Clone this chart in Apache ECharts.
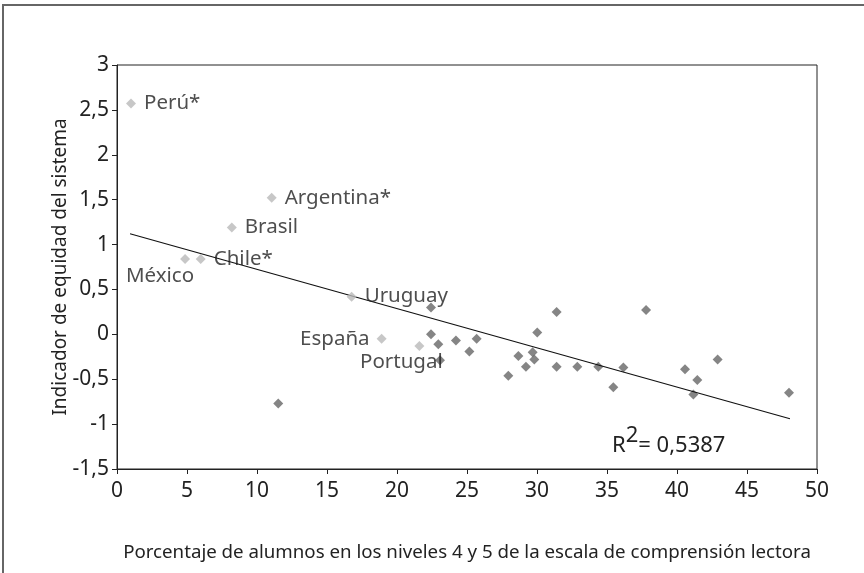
<!DOCTYPE html>
<html>
<head>
<meta charset="utf-8">
<script src="https://cdn.jsdelivr.net/npm/echarts@6/dist/echarts.min.js"></script>
<style>
    html, body { margin: 0; padding: 0; background: #fff; }
    #chart { width: 864px; height: 573px; }
</style>
</head>
<body>
<div id="chart"></div>
<script>
// países destacados (gris claro)
const namedCountries = ["Perú*", "Argentina*", "Brasil", "México", "Chile*", "Uruguay", "España", "Portugal"];
const namedX = [1.0, 11.05, 8.2, 4.86, 5.98, 16.76, 18.9, 21.6];
const namedY = [2.57, 1.52, 1.19, 0.84, 0.84, 0.42, -0.05, -0.13];

// resto de países (gris oscuro)
const otherX = [11.52, 22.43, 22.43, 22.95, 23.07, 24.21, 25.69, 25.17, 31.4, 30.02, 28.67, 29.69, 29.81,
    29.21, 27.95, 31.4, 32.88, 34.38, 35.45, 36.17, 37.79, 40.57, 41.45, 41.17, 42.9, 48.0];
const otherY = [-0.77, 0.30, 0.0, -0.11, -0.29, -0.07, -0.05, -0.19, 0.25, 0.02, -0.24, -0.20, -0.28,
    -0.36, -0.46, -0.36, -0.36, -0.36, -0.59, -0.37, 0.27, -0.39, -0.51, -0.67, -0.28, -0.65];

// línea de tendencia (extremos)
const trendX = [0.93, 48.07];
const trendY = [1.12, -0.94];

const xTicks = [0, 50, 5];
const yTicks = [-1.5, 3, 0.5];
const r2Text = "0,5387";

const FONT = "Noto Sans";

// dónde va cada etiqueta
const labelPlace = {
    "Perú*": { position: "right", distance: 8 },
    "Argentina*": { position: "right", distance: 8 },
    "Brasil": { position: "right", distance: 8 },
    "Chile*": { position: "right", distance: 8 },
    "México": { position: "bottom", distance: 2, offset: [-25, 0] },
    "Uruguay": { position: "right", distance: 8 },
    "España": { position: "left", distance: 7 },
    "Portugal": { position: "bottom", distance: 1, offset: [-18, 0] }
};

let namedData = [];
for (let i = 0; i < namedCountries.length; i++) {
    let place = labelPlace[namedCountries[i]];
    namedData.push({
        name: namedCountries[i],
        value: [namedX[i], namedY[i]],
        label: {
            position: place.position,
            distance: place.distance,
            offset: place.offset || [0, 0]
        }
    });
}
let otherData = [];
for (let i = 0; i < otherX.length; i++) {
    otherData.push([otherX[i], otherY[i]]);
}
let trendData = [];
for (let i = 0; i < trendX.length; i++) {
    trendData.push([trendX[i], trendY[i]]);
}

const chart = echarts.init(document.getElementById("chart"));
chart.setOption({
    animation: false,
    textStyle: { fontFamily: FONT },
    grid: {
        left: 117,
        right: 47,
        top: 65,
        bottom: 104,
        show: true,
        borderColor: "#222",
        borderWidth: 1
    },
    xAxis: {
        type: "value",
        min: xTicks[0],
        max: xTicks[1],
        interval: xTicks[2],
        name: "Porcentaje de alumnos en los niveles 4 y 5 de la escala de comprensión lectora",
        nameLocation: "middle",
        nameGap: 74,
        nameMoveOverlap: false,
        nameTextStyle: { fontSize: 18.7, color: "#222", fontFamily: FONT },
        axisLine: { onZero: false, lineStyle: { color: "#222", width: 1 } },
        axisTick: { show: true, length: 5, lineStyle: { color: "#222" } },
        axisLabel: { fontSize: 21, color: "#222", margin: 12, fontFamily: FONT },
        splitLine: { show: false }
    },
    yAxis: {
        type: "value",
        min: yTicks[0],
        max: yTicks[1],
        interval: yTicks[2],
        name: "Indicador de equidad del sistema",
        nameLocation: "middle",
        nameGap: 47,
        nameMoveOverlap: false,
        nameTextStyle: { fontSize: 19, color: "#222", fontFamily: FONT },
        axisLine: { onZero: false, lineStyle: { color: "#222", width: 1 } },
        axisTick: { show: true, length: 5, lineStyle: { color: "#222" } },
        axisLabel: {
            fontSize: 21,
            color: "#222",
            margin: 8,
            fontFamily: FONT,
            formatter: function (value) {
                return String(value).replace(".", ",");
            }
        },
        splitLine: { show: false }
    },
    series: [
        {
            type: "line",
            data: trendData,
            showSymbol: false,
            symbol: "none",
            lineStyle: { color: "#111", width: 1.2 },
            z: 3
        },
        {
            type: "scatter",
            data: otherData,
            symbol: "diamond",
            symbolSize: 10,
            itemStyle: { color: "#666" },
            z: 2
        },
        {
            type: "scatter",
            data: namedData,
            symbol: "diamond",
            symbolSize: 10,
            itemStyle: { color: "#b9b9b9" },
            label: {
                show: true,
                formatter: "{b}",
                fontSize: 20.5,
                color: "#222",
                fontFamily: FONT
            },
            z: 4
        }
    ],
    graphic: [
        {
            type: "rect",
            shape: { x: 3, y: 5, width: 900, height: 600 },
            style: { fill: "none", stroke: "#666", lineWidth: 2 },
            silent: true
        },
        {
            type: "text",
            left: 612,
            top: 425,
            style: {
                text: "{r|R}{s|2}{r|= " + r2Text + "}",
                rich: {
                    r: { fontSize: 22, fill: "#222", fontFamily: FONT, verticalAlign: "bottom", lineHeight: 32 },
                    s: { fontSize: 22, fill: "#222", fontFamily: FONT, verticalAlign: "top", lineHeight: 32, padding: [0, 0, 10, 0] }
                }
            }
        }
    ]
});
</script>
</body>
</html>
